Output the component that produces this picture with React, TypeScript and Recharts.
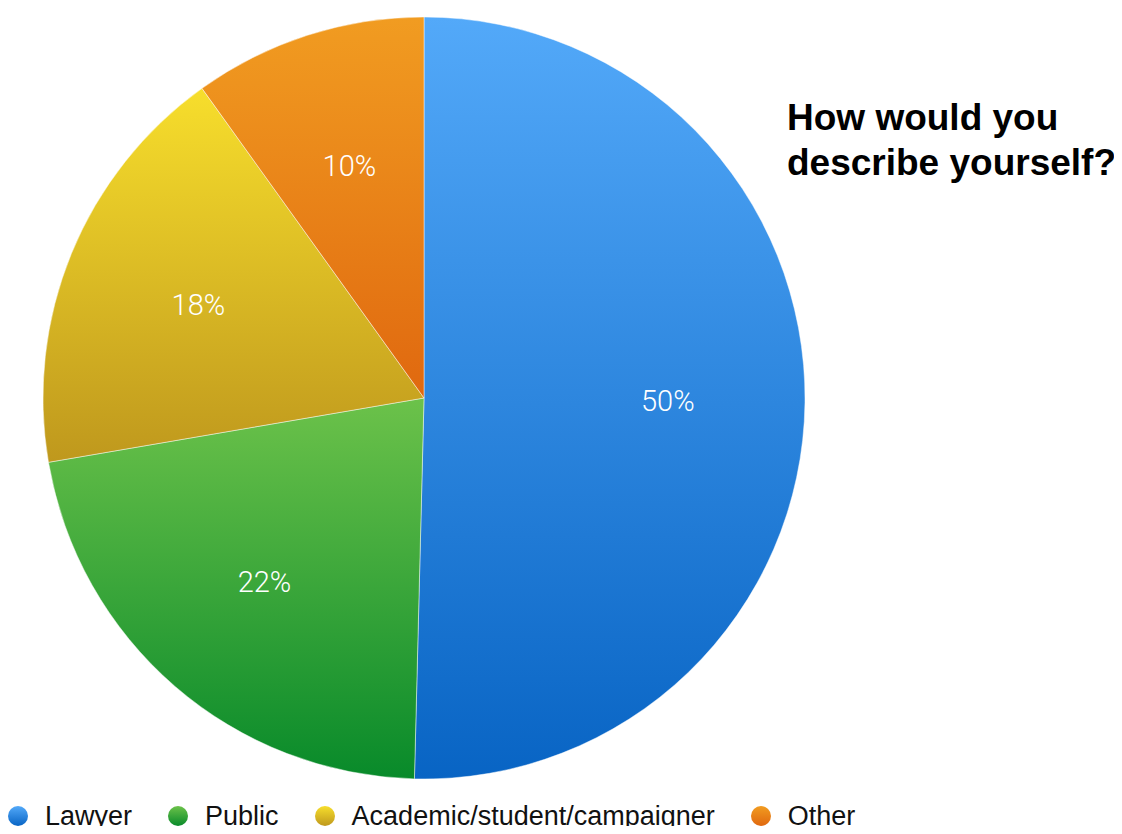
import React from "react";
import { PieChart, Pie, Cell, Legend } from "recharts";

const categories = ["Lawyer", "Public", "Academic/student/campaigner", "Other"];
const values = [50.4, 21.9, 17.8, 9.9];
const percentLabels = ["50%", "22%", "18%", "10%"];
const gradientTops = ["#53a9f9", "#6cc24a", "#f7de2c", "#f19c21"];
const gradientBottoms = ["#0864c4", "#088a2a", "#bf981d", "#e0680f"];
const title = ["How would you", "describe yourself?"];

const data = categories.map((name, i) => ({ name, value: values[i], label: percentLabels[i] }));

const RADIAN = Math.PI / 180;

const renderLabel = (props: any) => {
  const { cx, cy, midAngle, outerRadius, index } = props;
  const r = outerRadius * 0.64;
  const x = cx + r * Math.cos(-midAngle * RADIAN);
  const y = cy + r * Math.sin(-midAngle * RADIAN);
  return (
    <text
      x={x}
      y={y}
      fill="#ffffff"
      textAnchor="middle"
      dominantBaseline="central"
      style={{ fontFamily: "Roboto, 'Liberation Sans', sans-serif", fontWeight: 300, fontSize: 29 }}
    >
      {data[index].label}
    </text>
  );
};

const renderLegend = () => (
  <div style={{ display: "flex", alignItems: "center", fontFamily: "'Liberation Sans', Arial, sans-serif", fontSize: 27, color: "#111", whiteSpace: "nowrap", height: 28 }}>
    {categories.map((c, i) => (
      <div key={c} style={{ display: "flex", alignItems: "center", marginRight: i < categories.length - 1 ? 35 : 0 }}>
        <svg width={22} height={22} style={{ marginRight: 16, display: "block" }}>
          <circle cx={11} cy={11} r={10} fill={`url(#grad${i})`} />
        </svg>
        <span style={{ lineHeight: "28px" }}>{c}</span>
      </div>
    ))}
  </div>
);

export default function App() {
  return (
    <div style={{ position: "relative", width: 1122, height: 834, margin: -8, overflow: "hidden", background: "#fff" }}>
      <PieChart width={1122} height={834} margin={{ top: 0, right: 0, bottom: 0, left: 0 }}>
        <defs>
          {categories.map((c, i) => (
            <linearGradient key={c} id={`grad${i}`} x1="0" y1="0" x2="0" y2="1">
              <stop offset="0%" stopColor={gradientTops[i]} />
              <stop offset="100%" stopColor={gradientBottoms[i]} />
            </linearGradient>
          ))}
        </defs>
        <Pie
          data={data}
          dataKey="value"
          nameKey="name"
          cx={424}
          cy={398}
          outerRadius={381}
          startAngle={90}
          endAngle={-270}
          stroke="rgba(255,255,255,0.45)"
          strokeWidth={1}
          label={renderLabel}
          labelLine={false}
          isAnimationActive={false}
        >
          {data.map((d, i) => (
            <Cell key={d.name} fill={`url(#grad${i})`} />
          ))}
        </Pie>
        <Legend content={renderLegend} wrapperStyle={{ left: 7, top: 802, width: 1100 }} />
      </PieChart>
      <div
        style={{
          position: "absolute",
          left: 787,
          top: 95,
          fontFamily: "'Liberation Sans', Arial, sans-serif",
          fontWeight: 700,
          fontSize: 37,
          lineHeight: "45px",
          color: "#000",
        }}
      >
        {title.map((t) => (
          <div key={t}>{t}</div>
        ))}
      </div>
    </div>
  );
}
